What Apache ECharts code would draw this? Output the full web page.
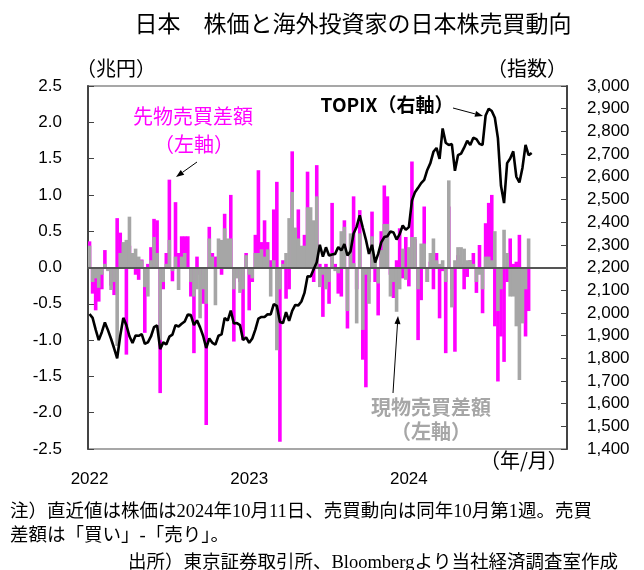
<!DOCTYPE html>
<html><head><meta charset="utf-8">
<script src="https://cdn.jsdelivr.net/npm/echarts@6/dist/echarts.min.js"></script>
<style>html,body{margin:0;padding:0;background:#fff}#c{width:644px;height:570px}</style>
</head><body><div id="c"></div>
<script>
// Weekly categories (Fridays) from 2022-01-07 through end of 2024
const startDate = new Date(Date.UTC(2022,0,7));
const weekCount = 156;
const weeks = [];
for (let i = 0; i < weekCount; i++) {
  const d = new Date(startDate.getTime() + i*7*86400000);
  weeks.push(d.toISOString().slice(0,10));
}
const yearLabels = ['2022','2023','2024'];

// 先物売買差額 (兆円, weekly)
const futures = [0.36,-0.36,-0.59,-0.47,-0.30,0.24,-0.03,-0.25,-0.38,0.68,
 0.48,0.20,-1.20,0.30,0.10,-0.10,-0.17,0.11,-0.90,0.05,
 0.28,0.67,0.65,-1.73,-0.30,0.20,1.21,-0.19,0.90,0.20,
 0.43,0.43,0.43,-0.40,-1.18,0.15,-0.10,-0.50,-2.17,0.56,
 0.20,0.15,0.15,-0.10,0.74,0.30,1.00,-1.02,-0.10,-0.20,
 -1.00,0.20,-0.59,-0.20,0.45,1.34,0.35,0.65,0.35,0.10,
 0.80,1.18,-2.40,0.10,-0.43,-0.30,1.60,0.25,0.80,0.20,
 0.45,1.32,0.61,-0.20,1.41,0.05,-0.68,0.05,-0.50,0.89,
 0.05,-0.36,-0.40,0.65,-0.84,0.20,0.98,-0.30,0.79,-1.27,
 -1.65,-0.20,0.77,-0.20,-0.66,0.50,1.13,0.98,-0.10,-0.42,
 0.10,0.54,-0.15,0.42,-0.26,1.46,0.39,-1.00,-0.45,0.84,
 -0.20,0.08,-0.30,0.20,-0.70,-0.05,-1.18,0.84,-0.30,-1.16,
 0.17,0.05,-0.30,-0.13,0.10,0.20,-0.35,0.31,-0.63,0.61,
 0.89,1.00,-0.81,-1.57,-0.95,-1.30,-0.20,0.40,0.05,0.08,
 0.45,-0.60,-0.95,-0.60];

// 現物売買差額 (兆円, weekly)
const cash = [0.30,-0.20,-0.15,-0.28,-0.10,0.05,-0.05,-0.31,-0.20,-1.08,
 0.20,0.35,0.38,0.70,0.20,0.26,0.15,0.10,-0.27,-0.40,
 0.10,0.42,0.20,-1.00,-0.20,0.05,0.38,-0.05,0.15,-0.31,
 0.15,0.20,-0.02,-0.20,-0.40,-0.30,-0.70,-0.30,-0.50,0.40,
 0.15,-0.52,0.40,0.38,0.54,0.40,0.40,-0.30,-0.15,-0.35,
 -0.30,0.17,-0.10,-0.15,0.20,0.20,0.25,0.15,0.25,-0.40,
 0.10,-1.14,-0.30,0.05,0.20,0.68,1.04,0.55,0.40,0.30,
 0.30,0.83,0.83,0.65,0.98,-0.27,-0.10,-0.30,-0.20,0.20,
 -0.05,-0.08,0.50,0.56,-0.60,0.47,0.06,-0.77,0.47,-0.86,
 -0.10,-0.50,0.43,0.10,-0.22,0.24,0.60,0.60,-0.40,-0.20,
 -0.61,-0.30,0.26,-0.17,0.28,0.42,0.42,-0.30,0.33,0.33,
 -0.20,0.20,0.40,0.10,0.05,0.10,-0.20,1.20,-0.55,0.10,
 0.28,0.28,0.26,0.10,0.10,0.05,-0.20,-0.10,-0.30,0.15,
 0.15,0.10,0.50,-0.60,-0.30,0.52,0.20,-0.40,-0.40,-0.81,
 -1.55,-0.77,-0.30,0.40];

// TOPIX (指数, weekly close)
const topix = [1995,1978,1926,1880,1915,1958,1924,1886,1844,1800,
 1899,1978,1946,1897,1867,1900,1899,1906,1864,1870,
 1896,1937,1945,1840,1870,1861,1895,1904,1946,1940,
 1952,1962,1993,1990,1946,1967,1936,1898,1845,1887,
 1868,1860,1899,1905,1977,1966,2010,1953,1955,1946,
 1880,1892,
 1868,1887,1926,1975,1982,1982,1994,1993,
 2039,2031,1960,1955,2003,1965,2009,2035,2033,2050,
 2088,2161,2160,2192,2223,2300,2248,2289,2253,2257,
 2260,2290,2275,2303,2253,2271,2350,2380,2430,2375,
 2323,2260,2300,2222,2260,2311,2334,2338,2359,2354,
 2323,2347,2385,2366,
 2378,2495,2532,2551,2572,2586,2630,2660,2710,2727,
 2679,2813,2750,2740,2744,2626,2695,2702,2728,2759,
 2740,2772,2766,2745,2740,2870,2900,2890,2860,2770,
 2560,2484,2660,2680,2712,2600,2575,2640,2740,2695,
 2705];

const leftTicks = [-2.5,2.5,0.5];
const rightTicks = [1400,3000,100];

const numFont = '"Liberation Sans", Arial, sans-serif';
const jpFont = '"Noto Sans CJK JP", sans-serif';
const noteFont = '"Liberation Serif", "Noto Sans CJK JP", serif';

function arrow(x1,y1,x2,y2,color){
  const ang = Math.atan2(y2-y1,x2-x1), L=8, W=3;
  const bx = x2 - L*Math.cos(ang), by = y2 - L*Math.sin(ang);
  const px = -Math.sin(ang)*W, py = Math.cos(ang)*W;
  return [
    {type:'line', shape:{x1:x1,y1:y1,x2:bx,y2:by}, style:{stroke:color,lineWidth:1}},
    {type:'polygon', shape:{points:[[x2,y2],[bx+px,by+py],[bx-px,by-py]]}, style:{fill:color}}
  ];
}

const chart = echarts.init(document.getElementById('c'), null, {renderer:'canvas'});
const option = {
  backgroundColor:'#fff',
  animation:false,
  title:{text:'日本　株価と海外投資家の日本株売買動向', left:348, textAlign:'center', top:7,
    textStyle:{fontFamily:jpFont, fontSize:23, fontWeight:'normal', color:'#000'}},
  grid:{left:88, right:77, top:86, bottom:121, show:true, borderColor:'#8a8a8a', borderWidth:1.5},
  xAxis:{type:'category', data:weeks, boundaryGap:true,
    axisLine:{show:true, lineStyle:{color:'#555', width:2}},
    axisTick:{show:false},
    axisLabel:{interval:0, margin:22, fontFamily:numFont, fontSize:17, color:'#000',
      formatter:function(v,idx){
        const y = v.slice(0,4), m = v.slice(5,7), d = +v.slice(8,10);
        if (m==='01' && d<=7 && yearLabels.indexOf(y)>=0) return y;
        return '';
      }},
    splitLine:{show:false}},
  yAxis:[
    {type:'value', min:leftTicks[0], max:leftTicks[1], interval:leftTicks[2], position:'left',
     axisLine:{show:true, lineStyle:{color:'#444', width:2}},
     axisTick:{show:true, inside:true, length:6, lineStyle:{color:'#444'}},
     axisLabel:{margin:26, fontFamily:numFont, fontSize:17, color:'#000',
       formatter:v=>v.toFixed(1)},
     splitLine:{show:false}},
    {type:'value', min:rightTicks[0], max:rightTicks[1], interval:rightTicks[2], position:'right',
     axisLine:{show:true, lineStyle:{color:'#444', width:2}},
     axisTick:{show:true, inside:true, length:6, lineStyle:{color:'#444'}},
     axisLabel:{margin:20, fontFamily:numFont, fontSize:17, color:'#000',
       formatter:v=>v.toLocaleString('en-US')},
     splitLine:{show:false}}
  ],
  series:[
    {name:'先物売買差額', type:'bar', yAxisIndex:0, data:futures, barWidth:3.6, barGap:'-100%',
     itemStyle:{color:'#ff00ff'}, z:2,
     markLine:{silent:true, symbol:'none', label:{show:false},
       lineStyle:{color:'#555', width:2, type:'solid'}, data:[{yAxis:0}]}},
    {name:'現物売買差額', type:'bar', yAxisIndex:0, data:cash, barWidth:3.6, barGap:'-100%',
     itemStyle:{color:'#a6a6a6'}, z:3},
    {name:'TOPIX', type:'line', yAxisIndex:1, data:topix, showSymbol:false, symbol:'none',
     lineStyle:{color:'#000', width:2.6}, z:5}
  ],
  graphic:[
    {type:'text', left:76, top:58, style:{text:'（兆円）', font:'20px '+jpFont, fill:'#000'}},
    {type:'text', left:487, top:58, style:{text:'（指数）', font:'20px '+jpFont, fill:'#000'}},
    {type:'text', left:480, top:450, style:{text:'（年/月）', font:'20px '+jpFont, fill:'#000'}},
    {type:'text', x:193, y:106, style:{text:'先物売買差額', font:'20px '+jpFont, fill:'#ff00ff', align:'center'}},
    {type:'text', x:194, y:134, style:{text:'（左軸）', font:'20px '+jpFont, fill:'#ff00ff', align:'center'}},
    ...arrow(197,162,176,177,'#000'),
    {type:'text', x:387, y:95, style:{text:'TOPIX（右軸）', font:'bold 19px '+jpFont, fill:'#000', align:'center'}},
    ...arrow(453,108,483,116,'#000'),
    {type:'text', x:431, y:397, style:{text:'現物売買差額', font:'bold 20px '+jpFont, fill:'#a6a6a6', align:'center'}},
    {type:'text', x:431, y:421, style:{text:'（左軸）', font:'bold 20px '+jpFont, fill:'#a6a6a6', align:'center'}},
    ...arrow(393,393,398,316,'#000'),
    {type:'text', left:10, top:503, style:{text:'注）直近値は株価は2024年10月11日、売買動向は同年10月第1週。売買', font:'18.5px '+noteFont, fill:'#000'}},
    {type:'text', left:10, top:527, style:{text:'差額は「買い」-「売り」。', font:'18.5px '+noteFont, fill:'#000'}},
    {type:'text', left:128, top:554, style:{text:'出所）東京証券取引所、Bloombergより当社経済調査室作成', font:'18.5px '+noteFont, fill:'#000'}}
  ]
};
chart.setOption(option);
</script>
</body></html>
